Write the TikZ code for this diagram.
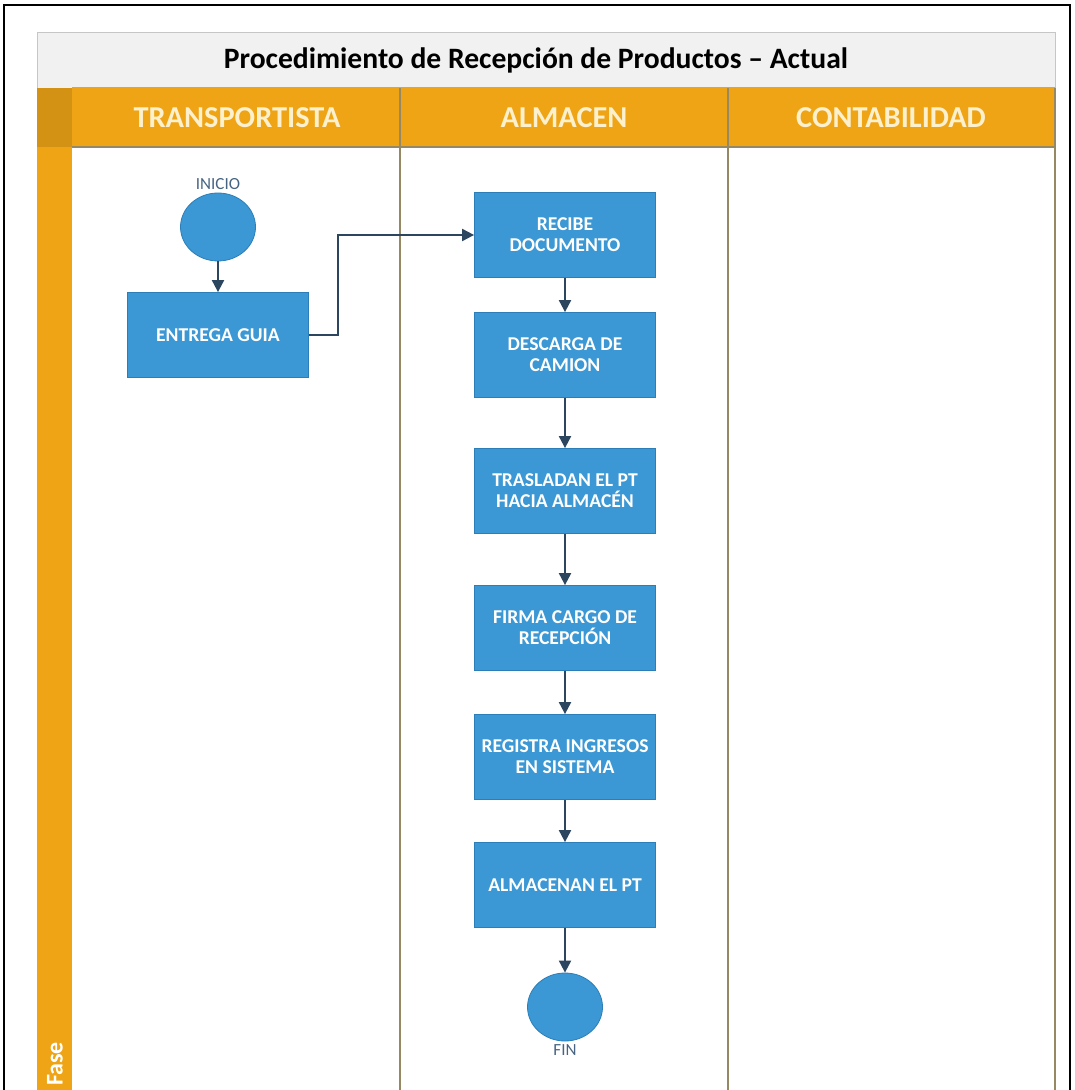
\documentclass[tikz,border=0pt]{standalone}
\usepackage{fontspec}
\setmainfont{Carlito}
\usetikzlibrary{positioning,calc,arrows.meta,shapes.geometric}
\definecolor{boxblue}{RGB}{59,152,212}
\definecolor{boxedge}{RGB}{44,126,184}
\definecolor{flecha}{RGB}{44,70,96}
\definecolor{oro}{RGB}{238,164,20}
\definecolor{orodark}{RGB}{212,146,20}
\definecolor{oroluz}{RGB}{248,194,70}
\definecolor{carril}{RGB}{150,136,98}
\definecolor{titfondo}{RGB}{241,241,241}
\definecolor{hdrtext}{RGB}{253,240,205}
\definecolor{etiq}{RGB}{70,100,130}

\tikzset{
  paso/.style={draw=boxedge, fill=boxblue, text=white, align=center,
    font=\bfseries\fontsize{9.8}{10.5}\selectfont,
    minimum width=90.5pt, minimum height=42.5pt, inner sep=1pt},
  terminal/.style={ellipse, draw=boxedge, fill=boxblue,
    minimum width=37.5pt, minimum height=34pt, inner sep=0pt},
  etiqueta/.style={text=etiq, font=\fontsize{8.5}{10}\selectfont},
  encabezado/.style={text=hdrtext, font=\bfseries\fontsize{15.2}{17}\selectfont},
  flujo/.style={draw=flecha, line width=1pt, -{Triangle[length=6pt,width=6pt]}},
  carrilline/.style={draw=carril, line width=0.6pt}
}

\begin{document}
\begin{tikzpicture}[x=0.5pt,y=-0.5pt]
  \useasboundingbox (0,0) rectangle (1074,1090);
  % outer frame
  \draw[line width=0.7pt] (4,1090) -- (4,5) -- (1070,5) -- (1070,1090);

  % title band
  \draw[gray!45, fill=titfondo] (37,32) rectangle (1055,88);
  \node[font=\bfseries\fontsize{14.8}{17}\selectfont] (titulo) at (536,60)
    {Procedimiento de Recepción de Productos – Actual};

  % header row
  \fill[orodark] (37,88) rectangle (72,147);
  \shade[left color=oro, middle color=oroluz, right color=oro] (72,88) rectangle (400,147);
  \shade[left color=oro, middle color=oroluz, right color=oro] (400,88) rectangle (728,147);
  \shade[left color=oro, middle color=oroluz, right color=oro] (728,88) rectangle (1055,147);
  \node[encabezado] (transp) at (237,118) {TRANSPORTISTA};
  \node[encabezado] (almacen) at (564,118) {ALMACEN};
  \node[encabezado] (conta) at (891,118) {CONTABILIDAD};

  % phase strip and lanes
  \fill[oro] (37,147) rectangle (72,1090);
  \node[rotate=90, text=white, font=\bfseries\fontsize{12}{14}\selectfont] (fase) at (55,1064) {Fase};
  \draw[carrilline] (72,147) -- (1055,147);
  \draw[carrilline] (400,88) -- (400,1090);
  \draw[carrilline] (728,88) -- (728,1090);
  \draw[carrilline] (1055,88) -- (1055,1090);

  % nodes
  \node[terminal] (inicio) at (218,227) {};
  \node[etiqueta] (tinicio) at (218,184) {INICIO};
  \node[paso] (entrega) at (218,335) {ENTREGA GUIA};
  \node[paso] (recibe) at (565,235) {RECIBE\\DOCUMENTO};
  \node[paso] (descarga) at (565,355) {DESCARGA DE\\CAMION};
  \node[paso] (traslado) at (565,491) {TRASLADAN EL PT\\HACIA ALMACÉN};
  \node[paso] (firma) at (565,628) {FIRMA CARGO DE\\RECEPCIÓN};
  \node[paso] (registra) at (565,757) {REGISTRA INGRESOS\\EN SISTEMA};
  \node[paso] (almacena) at (565,885) {ALMACENAN EL PT};
  \node[terminal] (fin) at (565,1007) {};
  \node[etiqueta] (tfin) at (565,1050) {FIN};

  % connectors
  \draw[flujo] (inicio) -- (entrega);
  \draw[flujo] (entrega.east) -- ++(29,0) |- (recibe.west);
  \foreach \a/\b in {recibe/descarga, descarga/traslado, traslado/firma,
                     firma/registra, registra/almacena, almacena/fin}
    \draw[flujo] (\a) -- (\b);
\end{tikzpicture}
\end{document}
